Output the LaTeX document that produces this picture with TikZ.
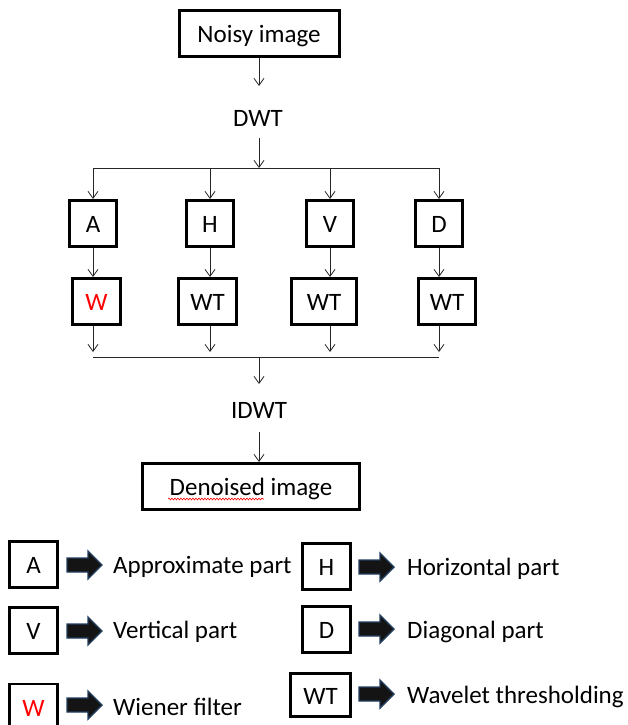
\documentclass[tikz,border=0pt]{standalone}
\usepackage{fontspec}
\setmainfont{Carlito}
\usetikzlibrary{arrows.meta,decorations.pathmorphing}
\definecolor{arrowedge}{RGB}{36,63,96}
\begin{document}
\begin{tikzpicture}[x=1pt,y=-1pt,
  font=\fontsize{25}{30}\selectfont,
  box/.style={draw=black, line width=3pt, inner sep=0pt, text height=18pt, text depth=0pt, minimum height=46pt},
  lbox/.style={draw=black, line width=2.4pt, inner sep=0pt, text height=18pt, text depth=0pt, minimum height=46pt, minimum width=48pt},
  lab/.style={inner sep=0pt},
  arr/.style={-{Straight Barb[length=7pt,width=10pt]}, line width=0.8pt, draw=black!85},
  conn/.style={line width=0.8pt, draw=black!85},
  fatarrow/.pic={\draw[fill=black!92, draw=arrowedge, line width=1.4pt, line join=miter]
    (0,-7) -- (21,-7) -- (21,-14) -- (35,0) -- (21,14) -- (21,7) -- (0,7) -- cycle;}
]
\useasboundingbox (0,0) rectangle (627,725);

% main flow
\node[box, minimum width=160pt] (noisy) at (259,33.5) {Noisy image};
\node[lab, anchor=base] (dwt) at (258,126) {DWT};
\coordinate (dwtin) at (259,86);
\coordinate (dwtout) at (259,138);
\coordinate (split) at (259,168);

\node[box, minimum width=47pt] (A) at (93,223.5) {A};
\node[box, minimum width=47pt] (H) at (210,223.5) {H};
\node[box, minimum width=47pt] (V) at (330,223.5) {V};
\node[box, minimum width=47pt] (D) at (439,223.5) {D};

\node[box, minimum width=48pt, text=red] (W) at (96.5,301.5) {W};
\node[box, minimum width=58pt] (WT2) at (207.5,301.5) {WT};
\node[box, minimum width=65pt] (WT3) at (324,301.5) {WT};
\node[box, minimum width=57pt] (WT4) at (447,301.5) {WT};

\coordinate (mergeend) at (259,352);
\coordinate (merge) at (259,357);
\node[lab, anchor=base] (idwt) at (259,418) {IDWT};
\coordinate (idwtin) at (259,384);
\coordinate (idwtout) at (259,432);
\node[box, minimum width=217pt] (den) at (251,486.5) {Denoised image};
\coordinate (sqa) at (168,499);
\coordinate (sqb) at (264,499);

\draw[arr] (noisy.south) -- (noisy.south |- dwtin);
\draw[arr] (dwtout) -- (split);
\draw[conn] (A.north |- split) -- (D.north |- split);
\foreach \n in {A,H,V,D}{\draw[arr] (\n.north |- split) -- (\n.north);}
\draw[arr] (A.south) -- (A.south |- W.north);
\draw[arr] (H.south) -- (H.south |- WT2.north);
\draw[arr] (V.south) -- (V.south |- WT3.north);
\draw[arr] (D.south) -- (D.south |- WT4.north);
\draw[arr] (A.south |- W.south) -- (A.south |- mergeend);
\draw[arr] (H.south |- WT2.south) -- (H.south |- mergeend);
\draw[arr] (V.south |- WT3.south) -- (V.south |- mergeend);
\draw[arr] (D.south |- WT4.south) -- (D.south |- mergeend);
\draw[conn] (A.south |- merge) -- (D.south |- merge);
\draw[arr] (merge) -- (idwtin);
\draw[arr] (idwtout) -- (idwtout |- den.north);
\draw[red, line width=0.6pt, decorate, decoration={snake, amplitude=0.9pt, segment length=3pt}] (sqa) -- (sqb);

% legend
\node[lbox] (lA) at (33.5,564.5) {A};
\node[lbox] (lV) at (33.5,630.5) {V};
\node[lbox, text=red] (lW) at (33.5,707) {W};
\node[lbox] (lH) at (326.5,566.5) {H};
\node[lbox] (lD) at (326.5,629.5) {D};
\node[lbox, minimum width=60pt, minimum height=43pt] (lWT) at (320.5,695) {WT};

\pic at (67,565) {fatarrow};
\pic at (67,631) {fatarrow};
\pic at (67,705) {fatarrow};
\pic at (359,567) {fatarrow};
\pic at (359,629) {fatarrow};
\pic at (359,694) {fatarrow};

\node[lab, anchor=base west] (tA) at (113,573) {Approximate part};
\node[lab, anchor=base west] (tV) at (113,638) {Vertical part};
\node[lab, anchor=base west] (tW) at (113,715) {Wiener filter};
\node[lab, anchor=base west] (tH) at (407,575) {Horizontal part};
\node[lab, anchor=base west] (tD) at (407,638) {Diagonal part};
\node[lab, anchor=base west] (tWT) at (407,703) {Wavelet thresholding};
\end{tikzpicture}
\end{document}
